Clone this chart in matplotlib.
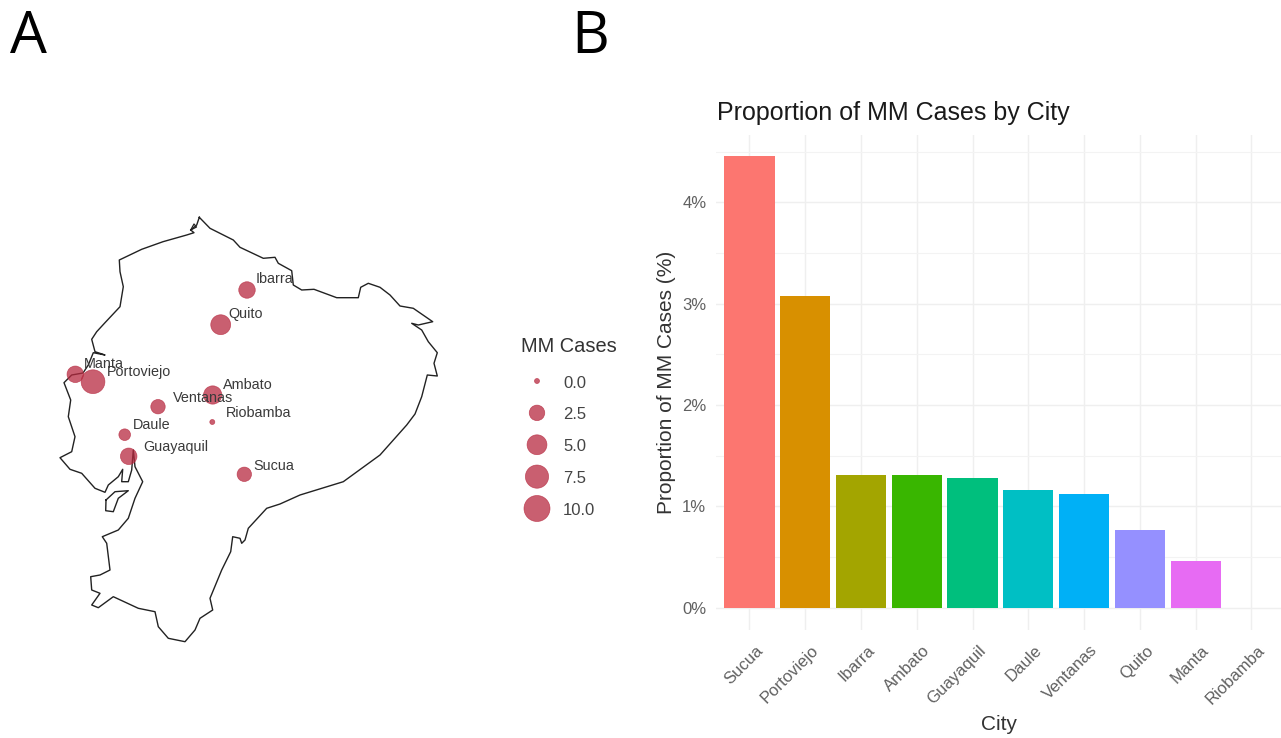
import matplotlib
matplotlib.use("Agg")
import matplotlib.pyplot as plt
from matplotlib.transforms import ScaledTranslation
import numpy as np

W, H = 1281, 738
FONT = "Liberation Sans"

# ---- data ----
cities = ["Sucua", "Portoviejo", "Ibarra", "Ambato", "Guayaquil", "Daule",
          "Ventanas", "Quito", "Manta", "Riobamba"]
proportion = [4.455, 3.08, 1.31, 1.31, 1.28, 1.16, 1.12, 0.77, 0.46, 0.0]
bar_colors = ["#FC7670", "#D89000", "#A3A500", "#39B600", "#00BF7D",
              "#00BFC4", "#00B0F6", "#9590FF", "#E76BF3", "#FF62BC"]
pct_ticks = [0, 1, 2, 3, 4]
pct_labels = ["0%", "1%", "2%", "3%", "4%"]

# map locations are in the picture's own map units
map_cases = [2, 8, 3, 4, 3, 1, 2, 5, 3, 0]
map_x = [244.3, 93, 247, 212.7, 128.7, 124.7, 158, 220.7, 75.3, 212.3]
map_y = [474.3, 381.7, 290, 395, 456.3, 434.7, 406.7, 324.7, 374.3, 422]
label_x = [253, 107, 256, 223, 143, 133, 172.7, 228.7, 84, 225.7]
label_y = [465.7, 371.7, 279, 385, 446.7, 425, 397.7, 314, 364, 413]

legend_values = [0.0, 2.5, 5.0, 7.5, 10.0]
legend_labels = ["0.0", "2.5", "5.0", "7.5", "10.0"]

coast_x = [199.3, 196.7, 190.7, 194, 186.7, 163, 141.7, 119.3, 120, 123.3, 120, 105, 96.7, 91.7,
           95, 105, 93.3, 88.3, 83, 71.7, 64, 70.7, 68.3, 75, 71.7, 60, 70, 81.7, 95, 105,
           108.3, 118.3, 122.7, 121.7, 128.3, 131.7, 133.3, 135, 142.7, 135, 128.3, 118.3, 102.3,
           106.7, 110, 100, 90.7, 91.7, 100, 91.7, 98.3, 113.3, 138.3, 155, 158.3, 168.3, 185,
           195, 200, 212.7, 210, 221.7, 230.7, 232.7, 240, 241.7, 245, 248.3, 266.7, 280, 300,
           343.3, 380, 406.7, 415, 421.7, 427.3, 437.3, 434, 437.3, 428.3, 421.7, 411.7, 418.3,
           432.7, 413.3, 400, 390, 380, 368.3, 360.7, 358.3, 346.7, 336.7, 314, 301.7, 293.3,
           291.7, 278.3, 275, 263.3, 240, 233.3, 210, 199.3]
coast_y = [217.3, 225, 230, 232.7, 235, 241.7, 249.3, 260, 271.7, 286.7, 306.7, 322.7, 331.7, 339.3,
           351.7, 355, 352.7, 365, 373, 375, 382.7, 400, 416.7, 436.7, 451.7, 457.7, 469.3, 473.3, 488.3, 492.3,
           485, 476.7, 469.3, 481.7, 481.7, 470, 450, 466.7, 481.7, 498.3, 518.3, 530, 536.7,
           543.3, 570, 575, 576.7, 590, 593.3, 605, 607.7, 596.7, 608.3, 611.7, 626.7, 638.3, 641.7,
           630, 618.3, 610, 598.3, 570, 551.7, 536.7, 538.3, 543.3, 540, 528.3, 508.3, 504, 495,
           481.7, 455, 425, 414, 396.7, 375, 376, 363.3, 352.7, 341.7, 330, 323.3, 325,
           321.7, 308.3, 306, 295, 287.3, 283.3, 287.3, 297.7, 297.7, 297.7, 289.3, 290, 285,
           270.7, 263.3, 257.3, 258.3, 247.3, 240, 228.3, 217.3]
island_x = [106, 115, 128.3, 118.3, 113.3, 105.7, 106]
island_y = [500, 491.7, 490.7, 498.3, 511.7, 510.7, 500]
lagoon_x = [190.7, 194, 196.5, 190.7]
lagoon_y = [230, 224, 227, 230]

# ---- helpers ----
def point_size(v):
    # radius follows the reference's area scale, given in pixels
    r = 2.5 + 10.5 * np.sqrt(np.asarray(v, dtype=float) / 10)
    return (2 * r * 72 / 100) ** 2

fig = plt.figure(figsize=(W / 100, H / 100), dpi=100, facecolor="white")

# ---- panel A + legend: full-figure axes ----
bg = fig.add_axes([0, 0, 1, 1])
bg.set_xlim(0, W)
bg.set_ylim(H, 0)
bg.axis("off")

LINE = "#222222"
bg.plot(coast_x, coast_y, color=LINE, lw=1.0, solid_joinstyle="round")
bg.plot(island_x, island_y, color=LINE, lw=1.0)
bg.plot(lagoon_x, lagoon_y, color=LINE, lw=0.9)

POINT = "#b72a40"
bg.scatter(map_x, map_y, s=point_size(map_cases), color=POINT, alpha=0.75,
           edgecolors=POINT, linewidths=0.5, zorder=3)
for name, x, y in zip(cities, label_x, label_y):
    bg.text(x, y, name, ha="left", va="center", fontsize=10.4, family=FONT,
            color="#3a3a3a", zorder=4)

bg.text(521, 347, "MM Cases", ha="left", va="center", fontsize=14.4, family=FONT, color="#333333")
leg_y = np.linspace(381, 508.5, len(legend_values))
bg.scatter([537] * len(legend_values), leg_y, s=point_size(legend_values), color=POINT,
           alpha=0.75, edgecolors=POINT, linewidths=0.5)
for lab, y in zip(legend_labels, leg_y):
    bg.text(563, y + 2, lab, ha="left", va="center", fontsize=12, family=FONT, color="#444444")

bg.text(10, 38, "A", ha="left", va="center", fontsize=42, family="Open Sans", color="#000000")
bg.text(571, 38, "B", ha="left", va="center", fontsize=42, family="Open Sans", color="#000000")

# ---- panel B ----
L, R, T, B = 716, 1281, 135, 630
ax = fig.add_axes([L / W, 1 - B / H, (R - L) / W, (B - T) / H])
ax.patch.set_alpha(0)
xpos = np.arange(len(cities))
ax.bar(xpos, proportion, width=0.9, color=bar_colors, zorder=3)
ax.set_xlim(-0.6, 9.53)
ax.set_ylim(-0.222, 4.665)

ax.set_yticks(pct_ticks)
ax.set_yticklabels(pct_labels, fontsize=12, family=FONT, color="#606060")
ax.set_yticks([0.5, 1.5, 2.5, 3.5, 4.5], minor=True)
ax.set_xticks(xpos)
ax.set_xticklabels(cities, rotation=45, ha="right", va="center", rotation_mode="anchor",
                   fontsize=12, family=FONT, color="#606060")
ax.tick_params(axis="both", which="both", length=0)
ax.tick_params(axis="x", pad=13)
ax.tick_params(axis="y", pad=7)
ax.grid(True, which="major", color="#efefef", lw=1.0, zorder=0)
ax.grid(True, which="minor", axis="y", color="#f3f3f3", lw=0.8, zorder=0)
ax.set_axisbelow(True)
for s in ax.spines.values():
    s.set_visible(False)

shift = ScaledTranslation(11 / 100, 0, fig.dpi_scale_trans)
for lab in ax.get_xticklabels():
    lab.set_transform(lab.get_transform() + shift)

bg.text(717, 113, "Proportion of MM Cases by City", ha="left", va="center", fontsize=18,
        family=FONT, color="#1a1a1a")
bg.text(667, 382, "Proportion of MM Cases (%)", ha="center", va="center", rotation=90,
        fontsize=15, family=FONT, color="#333333")
bg.text(999, 724, "City", ha="center", va="center", fontsize=15, family=FONT, color="#333333")

fig.savefig("out.png", dpi=100, facecolor="white")
